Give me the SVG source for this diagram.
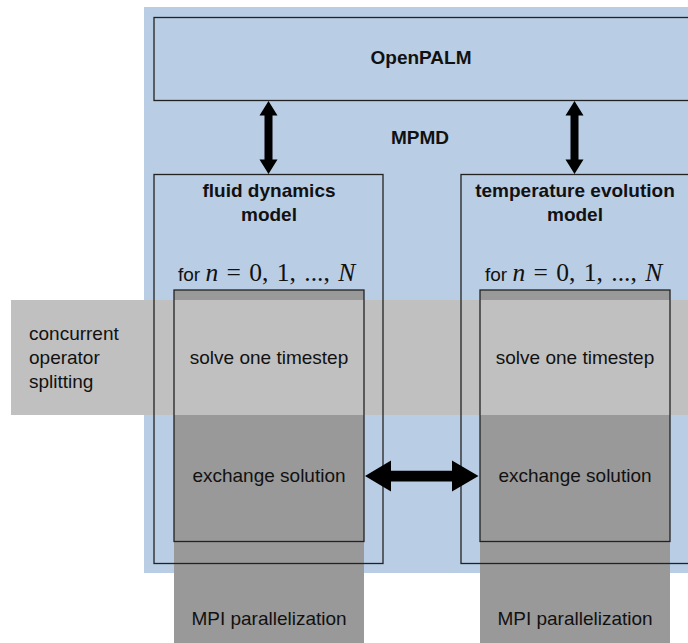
<svg xmlns="http://www.w3.org/2000/svg" width="688" height="643" viewBox="0 0 688 643">
<style>
  .lbl { font-family: "Liberation Sans", Arial, sans-serif; font-size: 19px; fill: #111; }
  .b { font-weight: bold; }
  .m { font-family: "Liberation Serif", "Times New Roman", serif; font-size: 25.5px; word-spacing: 2px; }
  .it { font-style: italic; }
  .outline { fill: none; stroke: #222; stroke-width: 1.3; }
  .arrow { fill: #000; }
</style>
<rect id="mpmd-bg" x="144" y="7" width="550" height="566" fill="#b9cde5"/>
<g id="openpalm">
  <rect x="154" y="17.5" width="540" height="83" class="outline"/>
  <text x="421" y="64" text-anchor="middle" class="lbl b">OpenPALM</text>
</g>
<text id="mpmd" x="420" y="144" text-anchor="middle" class="lbl b">MPMD</text>
<g id="columns">
  <rect x="174" y="290" width="190" height="353" fill="#999999"/>
  <rect x="480" y="290" width="190" height="353" fill="#999999"/>
</g>
<g id="splitting">
  <rect x="11" y="300" width="680" height="115" fill="#c0c0c0"/>
  <text class="lbl" x="29" y="340">concurrent</text>
  <text class="lbl" x="29" y="364">operator</text>
  <text class="lbl" x="29" y="388">splitting</text>
</g>
<g id="fluid-model">
  <rect x="154" y="174.5" width="229" height="389" class="outline"/>
  <text x="269" y="197" text-anchor="middle" class="lbl b">fluid dynamics</text>
  <text x="269" y="221" text-anchor="middle" class="lbl b">model</text>
  <text x="178" y="281" class="lbl">for <tspan class="m it">n</tspan><tspan class="m"> = 0, 1, ..., </tspan><tspan class="m it">N</tspan></text>
</g>
<g id="fluid-loop">
  <rect x="174" y="290" width="190" height="251.5" class="outline"/>
  <text x="269" y="364" text-anchor="middle" class="lbl">solve one timestep</text>
  <text x="269" y="482" text-anchor="middle" class="lbl">exchange solution</text>
</g>
<text id="fluid-mpi" x="269" y="625" text-anchor="middle" class="lbl">MPI parallelization</text>
<g id="temp-model">
  <rect x="461" y="174.5" width="235" height="389" class="outline"/>
  <text x="575" y="197" text-anchor="middle" class="lbl b">temperature evolution</text>
  <text x="575" y="221" text-anchor="middle" class="lbl b">model</text>
  <text x="485" y="281" class="lbl">for <tspan class="m it">n</tspan><tspan class="m"> = 0, 1, ..., </tspan><tspan class="m it">N</tspan></text>
</g>
<g id="temp-loop">
  <rect x="480" y="290" width="190" height="251.5" class="outline"/>
  <text x="575" y="364" text-anchor="middle" class="lbl">solve one timestep</text>
  <text x="575" y="482" text-anchor="middle" class="lbl">exchange solution</text>
</g>
<text id="temp-mpi" x="575" y="625" text-anchor="middle" class="lbl">MPI parallelization</text>
<g id="connectors">
  <polygon class="arrow" points="268.5,101 277.5,115.5 272.5,115.5 272.5,159.5 277.5,159.5 268.5,174 259.5,159.5 264.5,159.5 264.5,115.5 259.5,115.5"/>
  <polygon class="arrow" points="574.5,101 583.5,115.5 578.5,115.5 578.5,159.5 583.5,159.5 574.5,174 565.5,159.5 570.5,159.5 570.5,115.5 565.5,115.5"/>
  <polygon class="arrow" points="365,476 391,460.5 391,470.7 452,470.7 452,460.5 478.5,476 452,491.5 452,481.5 391,481.5 391,491.5"/>
</g>
</svg>
